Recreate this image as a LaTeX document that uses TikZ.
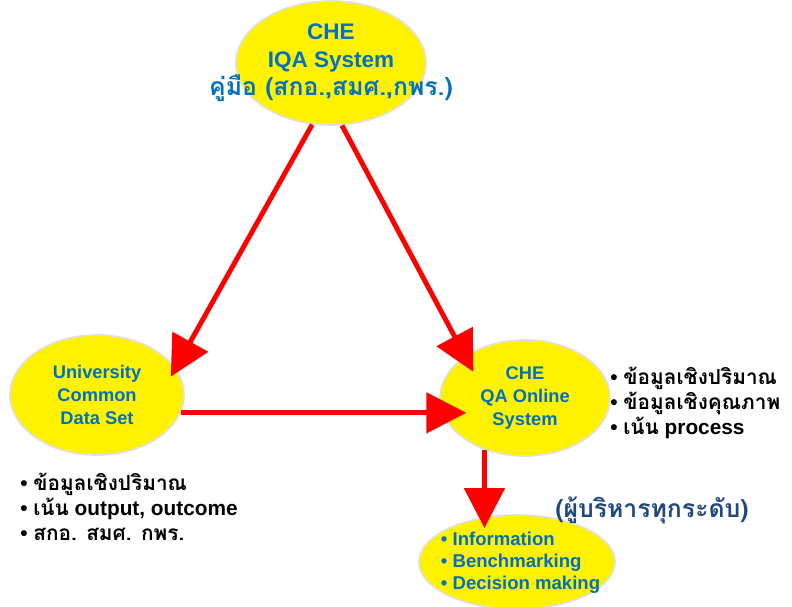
\documentclass[tikz,border=0pt]{standalone}
\usepackage{fontspec}
\setmainfont{Liberation Sans}
\newfontfamily\thai[Script=Thai,Scale=1.1]{Loma}
\newfontfamily\thaitext[Script=Thai]{Loma}
\usepackage{tikz}
\usetikzlibrary{arrows.meta,positioning,shapes.geometric,calc}
\definecolor{qablue}{RGB}{0,112,192}
\definecolor{navy}{RGB}{31,73,125}
\definecolor{qared}{RGB}{255,0,0}

\begin{document}
\begin{tikzpicture}[
    x=0.025cm, y=-0.025cm,
    blob/.style={ellipse, fill=yellow, draw=black!12, line width=1.2pt, inner sep=0pt},
    title/.style={text=qablue, font=\bfseries\fontsize{13}{16.3}\selectfont, align=center},
    bigtitle/.style={text=qablue, font=\bfseries\fontsize{16}{19.9}\selectfont, align=center},
    facts/.style={text=black, font=\bfseries\fontsize{14.8}{17.8}\selectfont, align=left, inner sep=0pt},
    arrow/.style={-{Triangle[length=1cm, width=1cm]}, draw=qared, line width=3.5pt}
]
    \useasboundingbox (0,0) rectangle (792,607);

    % Ellipses
    \node[blob, minimum width=4.75cm, minimum height=3.1cm] (iqa) at (331,63) {};
    \node[blob, minimum width=4.35cm, minimum height=3cm] (ucds) at (97,395) {};
    \node[blob, minimum width=4.25cm, minimum height=2.9cm] (qa) at (525,398) {};
    \node[blob, minimum width=4.9cm, minimum height=2.35cm] (info) at (517,562) {};

    % Texts in the ellipses
    \node[bigtitle] (iqatext) at (iqa.center) {CHE\\IQA System\\{\thai คู่มือ (สกอ.,สมศ.,กพร.)}};
    \node[title] (ucdstext) at (ucds.center) {University\\Common\\Data Set};
    \node[title] (qatext) at (qa.center) {CHE\\QA Online\\System};
    \node[title, align=left, anchor=west, font=\bfseries\fontsize{13.2}{15.6}\selectfont] (infotext) at (436,563)
        {• Information\\• Benchmarking\\• Decision making};

    % Lists beside
    \node[facts, anchor=west] (qafacts) at (610,403)
        {• {\thaitext ข้อมูลเชิงปริมาณ}\\• {\thaitext ข้อมูลเชิงคุณภาพ}\\• {\thaitext เน้น} process};
    \node[facts, anchor=west] (ucdsfacts) at (20,507)
        {• {\thaitext ข้อมูลเชิงปริมาณ}\\• {\thaitext เน้น} output, outcome\\• {\thaitext สกอ. สมศ. กพร.}};
    \node[text=navy, font=\bfseries\fontsize{16}{18}\selectfont] (users) at (652,510) {\thai (ผู้บริหารทุกระดับ)};

    % Arrows
    \draw[arrow, shorten >=-0.25cm] (iqa.253) -- (ucds.19);
    \draw[arrow, shorten >=-0.45cm] (iqa.280) -- (qa.145);
    \draw[arrow, shorten >=-0.55cm] (ucds.-12) -- (ucds.-12 -| qa.194);
    \draw[arrow, shorten >=-0.35cm] (qa.232) -- (qa.232 |- info.north);
\end{tikzpicture}
\end{document}
